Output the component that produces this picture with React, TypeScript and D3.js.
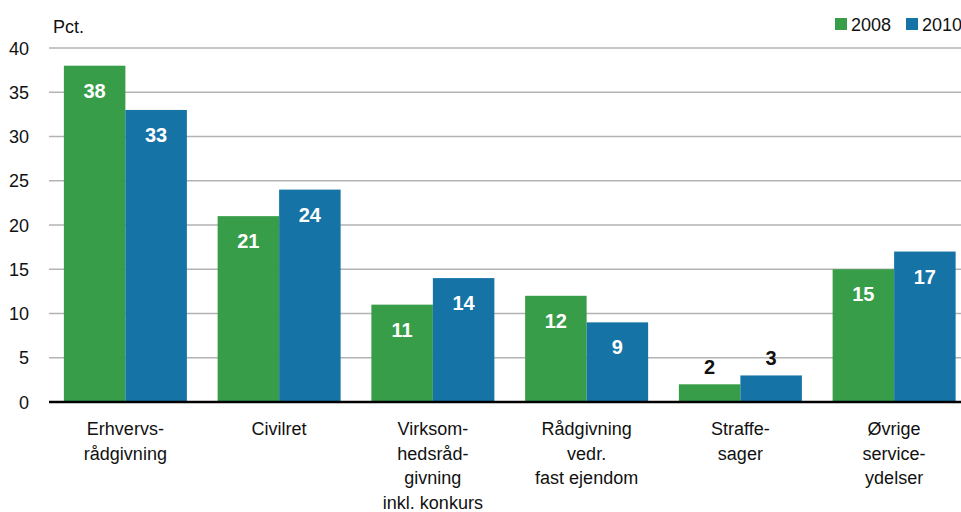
import React from "react";
import * as d3 from "d3";

const categories = [
  ["Erhvervs-", "rådgivning"],
  ["Civilret"],
  ["Virksom-", "hedsråd-", "givning", "inkl. konkurs"],
  ["Rådgivning", "vedr.", "fast ejendom"],
  ["Straffe-", "sager"],
  ["Øvrige", "service-", "ydelser"],
];
const series = ["2008", "2010"];
const values2008 = [38, 21, 11, 12, 2, 15];
const values2010 = [33, 24, 14, 9, 3, 17];
const yTicks = [0, 5, 10, 15, 20, 25, 30, 35, 40];

const colors = ["#389d49", "#1673a6"];
const FONT = "'Liberation Sans', Arial, sans-serif";
const FONT_NARROW = "'Liberation Sans Narrow', 'Liberation Sans', Arial, sans-serif";

export default function App() {
  const W = 961, H = 512;
  const keys = categories.map((c) => c.join(" "));
  const x = d3.scaleBand<string>().domain(keys).range([48.5, 971]).paddingInner(0.2).paddingOuter(0.1);
  const xs = d3.scaleBand<string>().domain(series).range([0, x.bandwidth()]);
  const y = d3.scaleLinear().domain([0, 40]).range([402, 48]);
  const data = [values2008, values2010];

  return (
    <svg width={W} height={H} style={{ position: "absolute", left: 0, top: 0, display: "block" }} fontFamily={FONT}>
      <rect width={W} height={H} fill="#fff" />
      {yTicks.map((t) => (
        <g key={t}>
          {t > 0 && <line x1={49} x2={W} y1={y(t)} y2={y(t)} stroke="#b3b3b3" strokeWidth={1.5} />}
          <text x={29} y={y(t) + 6.5} textAnchor="end" fontSize={18} fill="#111">{t}</text>
        </g>
      ))}
      <text x={53} y={33} fontSize={18} fill="#111">Pct.</text>
      {keys.map((k, i) => (
        <g key={k}>
          {series.map((s, j) => {
            const v = data[j][i];
            const bx = (x(k) ?? 0) + (xs(s) ?? 0);
            const bw = xs.bandwidth();
            const inside = v > 4;
            return (
              <g key={s}>
                <rect x={bx} y={y(v)} width={bw} height={y(0) - y(v)} fill={colors[j]} />
                <text x={bx + bw / 2} y={inside ? y(v) + 32 : y(v) - 10} textAnchor="middle" fontSize={20} fontWeight="bold" fontFamily={FONT_NARROW} fill={inside ? "#fff" : "#111"}>{v}</text>
              </g>
            );
          })}
          {categories[i].map((line, li) => (
            <text key={li} x={(x(k) ?? 0) + x.bandwidth() / 2} y={435 + li * 24.5} textAnchor="middle" fontSize={18} fill="#111">{line}</text>
          ))}
        </g>
      ))}
      <line x1={49} x2={W} y1={y(0)} y2={y(0)} stroke="#000" strokeWidth={2.5} />
      {series.map((s, j) => (
        <g key={s} transform={`translate(${j === 0 ? 835 : 906},0)`}>
          <rect x={0} y={18} width={12} height={12} fill={colors[j]} />
          <text x={16} y={30.5} fontSize={18} fill="#111">{s}</text>
        </g>
      ))}
    </svg>
  );
}
